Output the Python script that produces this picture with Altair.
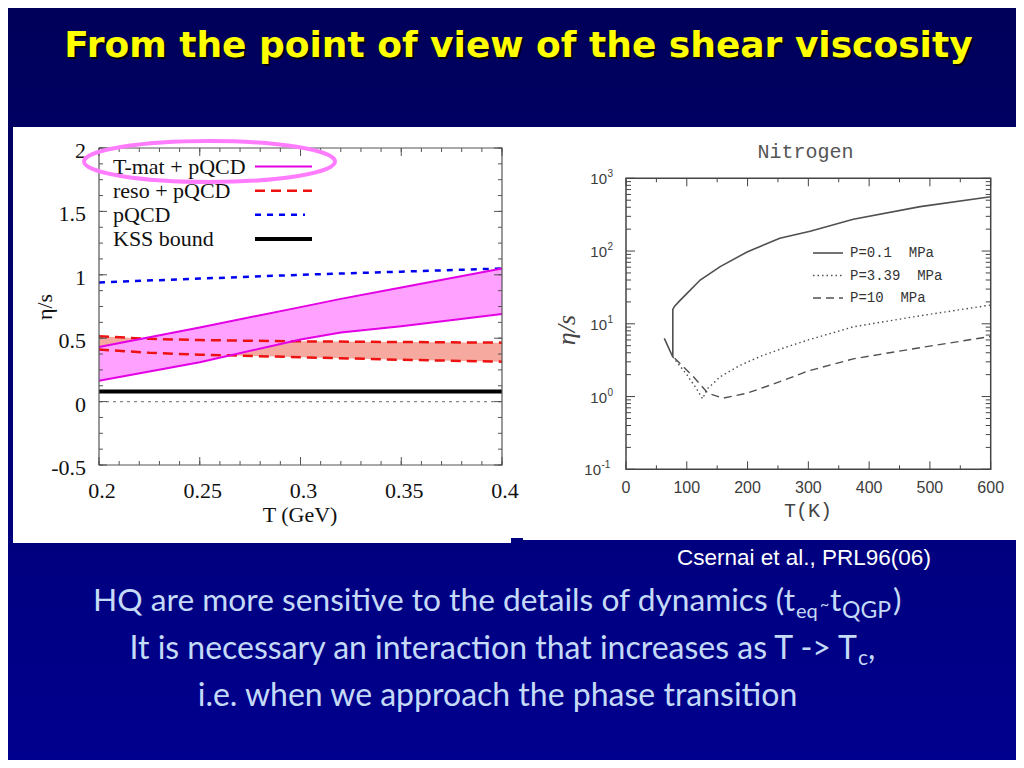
import altair as alt
import pandas as pd

W, H = 1008, 752
M = 8


def P(v):
    """page pixel -> chart pixel"""
    return v - M


# ---------------- slide texts ----------------
title_text = ["From the point of view of the shear viscosity"]
cite_text = ["Csernai et al., PRL96(06)"]
l1_main = ["HQ are more sensitive to the details of dynamics (t"]
l1_sub1 = ["eq"]
l1_tilde = ["~"]
l1_t = ["t"]
l1_sub2 = ["QGP"]
l1_end = [")"]
l2_main = ["It is necessary an interaction that increases as T -> T"]
l2_sub = ["c"]
l2_end = [","]
l3_main = ["i.e. when we approach the phase transition"]

# ---------------- left panel data (eta/s vs T [GeV]) ----------------
tmat_T = [0.20, 0.25, 0.30, 0.32, 0.35, 0.40]
tmat_hi = [0.43, 0.585, 0.745, 0.81, 0.90, 1.05]
tmat_lo = [0.165, 0.31, 0.49, 0.545, 0.595, 0.69]
reso_T = [0.20, 0.225, 0.25, 0.30, 0.35, 0.40]
reso_hi = [0.515, 0.495, 0.485, 0.475, 0.47, 0.465]
reso_lo = [0.41, 0.385, 0.37, 0.35, 0.33, 0.315]
pqcd_T = [0.20, 0.25, 0.30, 0.35, 0.40]
pqcd_v = [0.94, 0.97, 1.00, 1.025, 1.05]
kss_T = [0.20, 0.40]
kss_v = [0.08, 0.08]
zero_T = [0.20, 0.40]
zero_v = [0.0, 0.0]
left_legend = ["T-mat + pQCD", "reso + pQCD", "pQCD", "KSS bound"]
left_xtitle = ["T (GeV)"]
left_ytitle = ["η/s"]
left_xticks = [0.2, 0.25, 0.3, 0.35, 0.4]
left_xlabels = ["0.2", "0.25", "0.3", "0.35", "0.4"]
left_yticks = [-0.5, 0, 0.5, 1, 1.5, 2]
left_ylabels = ["-0.5", "0", "0.5", "1", "1.5", "2"]
left_xminor = [round(0.2 + 0.01 * i, 2) for i in range(21)]
left_yminor = [-0.5 + 0.125 * i for i in range(21)]

# ---------------- right panel data (Nitrogen) ----------------
n01_T = [63, 77, 77, 80, 89, 100, 122, 155, 200, 253, 303, 374, 484, 600]
n01_v = [6.3, 3.5, 15.8, 17.5, 21, 26, 40, 61, 98, 150, 187, 273, 408, 558]
n339_T = [77, 100, 115, 126, 130, 133, 155, 188, 226, 264, 300, 374, 484, 600]
n339_v = [3.5, 2.0, 1.32, 0.93, 1.1, 1.26, 1.87, 2.7, 3.7, 4.8, 6.0, 9.1, 12.9, 18.1]
n10_T = [80, 111, 135, 160, 199, 253, 300, 374, 484, 600]
n10_v = [3.36, 1.87, 1.11, 0.95, 1.11, 1.6, 2.25, 3.3, 4.7, 6.7]
right_legend = ["P=0.1\u00a0\u00a0MPa", "P=3.39\u00a0\u00a0MPa", "P=10\u00a0\u00a0MPa"]
right_title = ["Nitrogen"]
right_xtitle = ["T(K)"]
right_ytitle = ["η/s"]
right_xticks = [0, 100, 200, 300, 400, 500, 600]
right_xlabels = ["0", "100", "200", "300", "400", "500", "600"]
right_xminor = [50, 150, 250, 350, 450, 550]
right_yticks_pos = [1, 10, 100, 1000]
right_yexp_pos = ["0", "1", "2", "3"]
right_yticks_neg = [0.1]
right_yexp_neg = ["-1"]
right_yticks = right_yticks_neg + right_yticks_pos
right_yminor = [m * 10.0 ** k for k in range(-1, 3) for m in range(2, 10)]

one = pd.DataFrame({"a": [0]})


# ---------------- helpers ----------------
def box(x0, y0, x1, y1, color):
    return alt.Chart(one).mark_rect(color=color).encode(
        x=alt.value(x0), x2=alt.value(x1), y=alt.value(y0), y2=alt.value(y1))


def text(lst, x, y, size, font, color, align="center", baseline="alphabetic",
         weight="normal", angle=0, style="normal"):
    df = pd.DataFrame({"t": lst})
    return alt.Chart(df).mark_text(
        align=align, baseline=baseline, font=font, fontSize=size, color=color,
        fontWeight=weight, angle=angle, fontStyle=style
    ).encode(x=alt.value(x), y=alt.value(y), text="t:N")


def xlabels(vals, labs, xs, y, **mk):
    df = pd.DataFrame({"v": vals, "lab": labs})
    return alt.Chart(df).mark_text(**mk).encode(
        x=alt.X("v:Q", scale=xs, axis=None), y=alt.value(y), text="lab:N")


def ylabels(vals, labs, ys, x, **mk):
    df = pd.DataFrame({"v": vals, "lab": labs})
    return alt.Chart(df).mark_text(**mk).encode(
        y=alt.Y("v:Q", scale=ys, axis=None), x=alt.value(x), text="lab:N")


def vticks(vals, xs, y0, length, color="#444", width=1):
    df = pd.DataFrame({"v": vals})
    return alt.Chart(df).mark_rule(color=color, strokeWidth=width).encode(
        x=alt.X("v:Q", scale=xs, axis=None),
        y=alt.value(y0), y2=alt.value(y0 + length))


def hticks(vals, ys, x0, length, color="#444", width=1):
    df = pd.DataFrame({"v": vals})
    return alt.Chart(df).mark_rule(color=color, strokeWidth=width).encode(
        y=alt.Y("v:Q", scale=ys, axis=None),
        x=alt.value(x0), x2=alt.value(x0 + length))


def line(xv, yv, xs, ys, **mk):
    df = pd.DataFrame({"x": xv, "y": yv, "i": list(range(len(xv)))})
    return alt.Chart(df).mark_line(**mk).encode(
        x=alt.X("x:Q", scale=xs, axis=None),
        y=alt.Y("y:Q", scale=ys, axis=None),
        order=alt.Order("i:Q"))


# ---------------- background + panels ----------------
bg = alt.Chart(one).mark_rect(
    color=alt.LinearGradient(
        gradient="linear",
        stops=[alt.GradientStop(color="#00005a", offset=0),
               alt.GradientStop(color="#00008e", offset=1)],
        x1=0, x2=0, y1=0, y2=1)
).encode(x=alt.value(0), x2=alt.value(W), y=alt.value(0), y2=alt.value(H))

panel_l = box(P(13), P(127), P(516), P(543), "white")
panel_r = box(P(516), P(127), W, P(540), "white")
notch = box(P(511), P(538), P(523), P(546), "#00007c")

# ---------------- left plot ----------------
xL = alt.Scale(domain=[0.2, 0.4], range=[P(99), P(502)], nice=False, zero=False)
yL = alt.Scale(domain=[-0.5, 2], range=[P(465), P(148)], nice=False, zero=False)

dfReso = pd.DataFrame({"x": reso_T, "lo": reso_lo, "hi": reso_hi})
dfTmat = pd.DataFrame({"x": tmat_T, "lo": tmat_lo, "hi": tmat_hi})

reso_band = alt.Chart(dfReso).mark_area(color="#f6aa9f").encode(
    x=alt.X("x:Q", scale=xL, axis=None),
    y=alt.Y("lo:Q", scale=yL, axis=None), y2="hi:Q")
tmat_band = alt.Chart(dfTmat).mark_area(color="#ffa2ff").encode(
    x=alt.X("x:Q", scale=xL, axis=None),
    y=alt.Y("lo:Q", scale=yL, axis=None), y2="hi:Q")

frameL = alt.Chart(pd.DataFrame({"x0": [0.2], "x1": [0.4], "y0": [-0.5], "y1": [2.0]})).mark_rect(
    fillOpacity=0, stroke="#555", strokeWidth=1.2).encode(
    x=alt.X("x0:Q", scale=xL, axis=None), x2="x1:Q",
    y=alt.Y("y0:Q", scale=yL, axis=None), y2="y1:Q")

SERIF = "Liberation Serif"
left_plot = alt.layer(
    reso_band,
    tmat_band,
    line(zero_T, zero_v, xL, yL, color="#888", strokeDash=[3, 4], strokeWidth=1.2),
    line(kss_T, kss_v, xL, yL, color="#000", strokeWidth=4),
    line(pqcd_T, pqcd_v, xL, yL, color="#0000f0", strokeDash=[6, 6], strokeWidth=2.5),
    line(reso_T, reso_hi, xL, yL, color="#ee1111", strokeDash=[10, 6], strokeWidth=2.5),
    line(reso_T, reso_lo, xL, yL, color="#ee1111", strokeDash=[10, 6], strokeWidth=2.5),
    line(tmat_T, tmat_hi, xL, yL, color="#e400e4", strokeWidth=2),
    line(tmat_T, tmat_lo, xL, yL, color="#e400e4", strokeWidth=2),
    frameL,
    vticks(left_xticks, xL, P(465), -8, "#555"),
    vticks(left_xminor, xL, P(465), -4, "#555"),
    vticks(left_xticks, xL, P(148), 8, "#555"),
    vticks(left_xminor, xL, P(148), 4, "#555"),
    hticks(left_yticks, yL, P(99), 8, "#555"),
    hticks(left_yminor, yL, P(99), 4, "#555"),
    hticks(left_yticks, yL, P(502), -8, "#555"),
    hticks(left_yminor, yL, P(502), -4, "#555"),
    xlabels(left_xticks, left_xlabels, xL, P(498), align="center", baseline="alphabetic",
            dx=3, font=SERIF, fontSize=22, color="#111"),
    ylabels(left_yticks, left_ylabels, yL, P(86), align="right", baseline="middle",
            dy=3, font=SERIF, fontSize=22, color="#111"),
)

legL_scale = alt.Scale(type="point", domain=left_legend, range=[P(166.5), P(239)], padding=0)
dfLegL = pd.DataFrame({"label": left_legend})
legL_styles = [
    dict(color="#e400e4", strokeWidth=2),
    dict(color="#ee1111", strokeWidth=2.5, strokeDash=[10, 6]),
    dict(color="#0000f0", strokeWidth=2.5, strokeDash=[6, 6]),
    dict(color="#000", strokeWidth=4),
]
legL_ends = [P(312), P(312), P(305), P(312)]
legL_layers = [alt.Chart(dfLegL).mark_text(
    align="left", baseline="middle", font=SERIF, fontSize=22, color="#111"
).encode(x=alt.value(P(113)), y=alt.Y("label:N", scale=legL_scale, axis=None), text="label:N")]
for lab, st, xe in zip(left_legend, legL_styles, legL_ends):
    legL_layers.append(
        alt.Chart(pd.DataFrame({"label": [lab]})).mark_rule(**st).encode(
            x=alt.value(P(255)), x2=alt.value(xe),
            y=alt.Y("label:N", scale=legL_scale, axis=None)))
left_legend_chart = alt.layer(*legL_layers)

ellipse = alt.Chart(one).mark_point(
    shape="M -1 0 A 1 0.163 0 1 0 1 0 A 1 0.163 0 1 0 -1 0 Z",
    size=251 ** 2, filled=False, stroke="#ff7cff", strokeWidth=4, opacity=1
).encode(x=alt.value(P(209.5)), y=alt.value(P(161.5)))

# ---------------- right plot ----------------
xR = alt.Scale(domain=[0, 600], range=[P(626), P(990.7)], nice=False, zero=False)
yR = alt.Scale(type="log", domain=[0.1, 1000], range=[P(469.3), P(178.3)], nice=False)

frameR = alt.Chart(pd.DataFrame({"x0": [0], "x1": [600], "y0": [0.1], "y1": [1000]})).mark_rect(
    fillOpacity=0, stroke="#444", strokeWidth=1.5).encode(
    x=alt.X("x0:Q", scale=xR, axis=None), x2="x1:Q",
    y=alt.Y("y0:Q", scale=yR, axis=None), y2="y1:Q")

SANS = "Liberation Sans"
GR = "#3c3c3c"
right_plot = alt.layer(
    frameR,
    line(n01_T, n01_v, xR, yR, color="#505050", strokeWidth=1.6),
    line(n339_T, n339_v, xR, yR, color="#505050", strokeWidth=1.4, strokeDash=[1.5, 3]),
    line(n10_T, n10_v, xR, yR, color="#505050", strokeWidth=1.4, strokeDash=[8, 5]),
    vticks(right_xticks, xR, P(469.3), -8),
    vticks(right_xminor, xR, P(469.3), -4),
    vticks(right_xticks, xR, P(178.3), 8),
    vticks(right_xminor, xR, P(178.3), 4),
    hticks(right_yticks, yR, P(626), 9),
    hticks(right_yminor, yR, P(626), 5),
    hticks(right_yticks, yR, P(990.7), -9),
    hticks(right_yminor, yR, P(990.7), -5),
    xlabels(right_xticks, right_xlabels, xR, P(493), align="center", baseline="alphabetic",
            font=SANS, fontSize=16, color=GR),
    ylabels(right_yticks_pos, ["10"] * len(right_yticks_pos), yR, P(607), align="right",
            baseline="middle", dy=1, font=SANS, fontSize=15, color=GR),
    ylabels(right_yticks_pos, right_yexp_pos, yR, P(607.5), align="left",
            baseline="alphabetic", dy=-1, font=SANS, fontSize=10, color=GR),
    ylabels(right_yticks_neg, ["10"] * len(right_yticks_neg), yR, P(601), align="right",
            baseline="middle", dy=1, font=SANS, fontSize=15, color=GR),
    ylabels(right_yticks_neg, right_yexp_neg, yR, P(601.5), align="left",
            baseline="alphabetic", dy=-1, font=SANS, fontSize=10, color=GR),
)

legR_scale = alt.Scale(type="point", domain=right_legend, range=[P(253), P(298)], padding=0)
legR_styles = [
    dict(color="#505050", strokeWidth=1.6),
    dict(color="#505050", strokeWidth=1.4, strokeDash=[1.5, 3]),
    dict(color="#505050", strokeWidth=1.4, strokeDash=[8, 5]),
]
legR_layers = [alt.Chart(pd.DataFrame({"label": right_legend})).mark_text(
    align="left", baseline="middle", font="Liberation Mono", fontSize=14, color="#333"
).encode(x=alt.value(P(850)), y=alt.Y("label:N", scale=legR_scale, axis=None), text="label:N")]
for lab, st in zip(right_legend, legR_styles):
    legR_layers.append(
        alt.Chart(pd.DataFrame({"label": [lab]})).mark_rule(**st).encode(
            x=alt.value(P(813)), x2=alt.value(P(843)),
            y=alt.Y("label:N", scale=legR_scale, axis=None)))
right_legend_chart = alt.layer(*legR_layers)

# ---------------- texts ----------------
BODY = "Lato"
BODY_C = "#c4daf6"
S = 32
SS = 21
B1, B2, B3 = 611, 659, 706
texts = [
    text(title_text, P(520.5), P(59), 36, "DejaVu Sans", "#000010", weight="bold"),
    text(title_text, P(518.5), P(57), 36, "DejaVu Sans", "#ffff00", weight="bold"),
    text(left_xtitle, P(300), P(522), 22, SERIF, "#111"),
    text(left_ytitle, P(45), P(307), 22, SERIF, "#111", baseline="middle", angle=270),
    text(right_title, P(805.5), P(158), 20, "Liberation Mono", "#555"),
    text(right_xtitle, P(808), P(517), 20, "Liberation Mono", "#444"),
    text(right_ytitle, P(567), P(330), 26, SERIF, "#444", baseline="middle", angle=270,
         style="italic"),
    text(cite_text, P(677), P(565), 22.5, SANS, "#ffffff", align="left"),
    text(l1_main, P(795), P(B1), 31.7, BODY, BODY_C, align="right"),
    text(l1_sub1, P(796), P(B1 + 7), 20, BODY, BODY_C, align="left"),
    text(l1_tilde, P(820), P(B1 - 1), 16, BODY, BODY_C, align="left"),
    text(l1_t, P(830), P(B1), 31.7, BODY, BODY_C, align="left"),
    text(l1_sub2, P(842), P(B1 + 7), 23, BODY, BODY_C, align="left"),
    text(l1_end, P(893), P(B1), 31.7, BODY, BODY_C, align="left"),
    text(l2_main, P(857), P(B2), S, BODY, BODY_C, align="right"),
    text(l2_sub, P(858), P(B2 + 6), SS, BODY, BODY_C, align="left"),
    text(l2_end, P(868), P(B2), S, BODY, BODY_C, align="left"),
    text(l3_main, P(497.5), P(B3), S, BODY, BODY_C),
]

chart = alt.layer(
    bg, panel_l, panel_r, notch,
    left_plot, left_legend_chart, ellipse,
    right_plot, right_legend_chart,
    *texts,
).resolve_scale(x="independent", y="independent").properties(
    width=W, height=H, padding=0,
    autosize=alt.AutoSizeParams(type="none"),
    background="#00006e",
).configure_view(stroke=None)

chart.save("out.html", embed_options={"renderer": "svg", "actions": False})
